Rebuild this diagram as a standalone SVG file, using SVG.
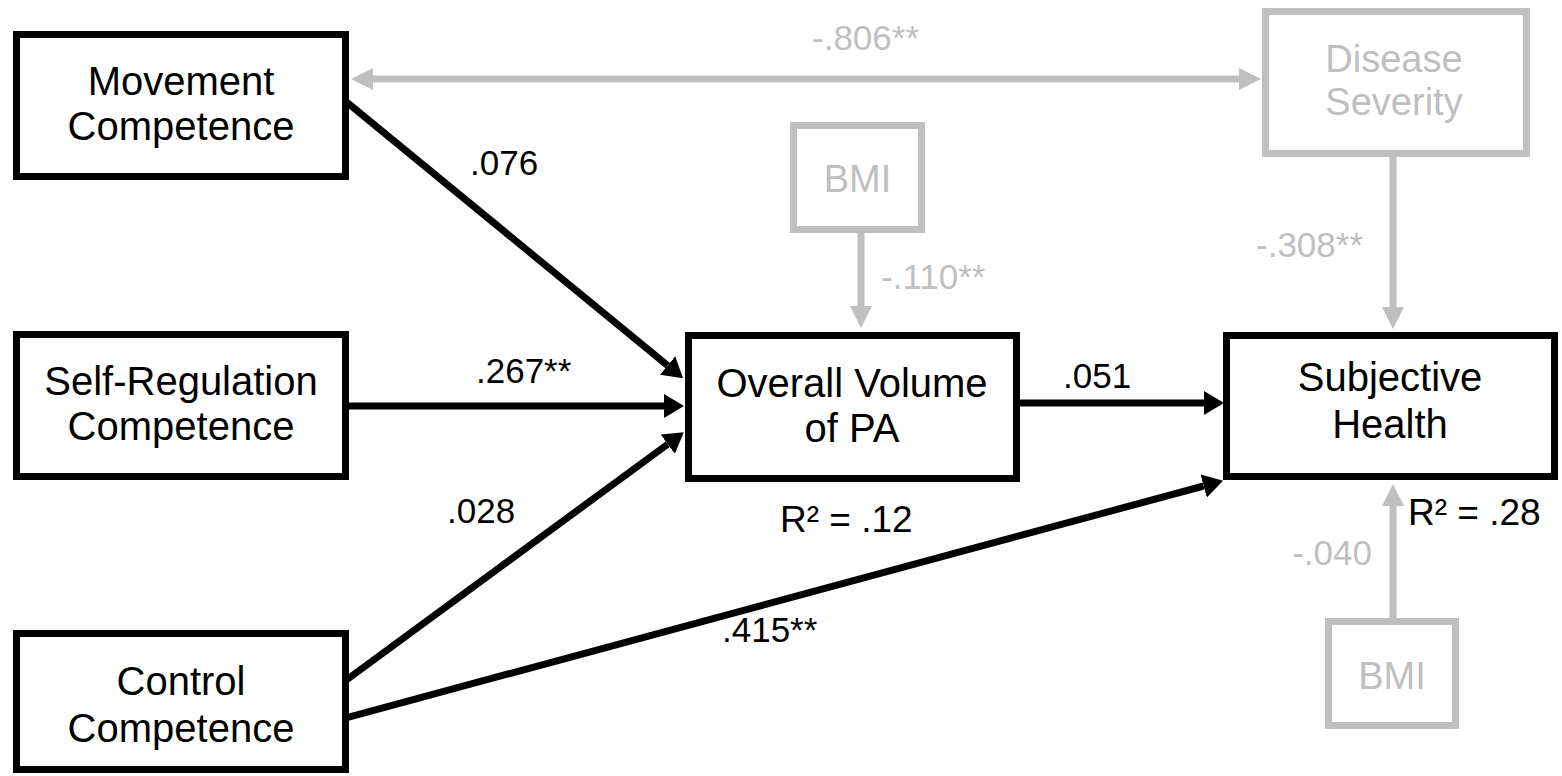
<svg xmlns="http://www.w3.org/2000/svg" width="1562" height="776" viewBox="0 0 1562 776">
  <style>
    .box { fill: #ffffff; stroke: #000000; stroke-width: 7; }
    .gbox { fill: #ffffff; stroke: #bfbfbf; stroke-width: 7; }
    .name { font-family: "Liberation Sans", Arial, sans-serif; font-size: 40px; fill: #000000; text-anchor: middle; }
    .gname { font-family: "Liberation Sans", Arial, sans-serif; font-size: 38px; fill: #bfbfbf; text-anchor: middle; }
    .coef { font-family: "Liberation Sans", Arial, sans-serif; font-size: 35px; fill: #000000; }
    .gcoef { font-family: "Liberation Sans", Arial, sans-serif; font-size: 35px; fill: #bfbfbf; }
    .rsq { font-family: "Liberation Sans", Arial, sans-serif; font-size: 37px; fill: #000000; }
    .path { fill: none; stroke: #000000; stroke-width: 7; }
    .gpath { fill: none; stroke: #bfbfbf; stroke-width: 7; }
  </style>
  <defs>
    <marker id="head" markerUnits="userSpaceOnUse" markerWidth="20" markerHeight="24" refX="0" refY="12" orient="auto">
      <path d="M0,0 L20,12 L0,24 Z" fill="#000000"/>
    </marker>
    <marker id="ghead" markerUnits="userSpaceOnUse" markerWidth="22" markerHeight="22" refX="0" refY="11" orient="auto-start-reverse">
      <path d="M0,0 L22,11 L0,22 Z" fill="#bfbfbf"/>
    </marker>
  </defs>

  <rect width="1562" height="776" fill="#ffffff"/>

  <!-- connectors -->
  <g id="connectors">
    <line class="gpath" x1="373" y1="79" x2="1239" y2="79" marker-start="url(#ghead)" marker-end="url(#ghead)"/>
    <line class="gpath" x1="861" y1="231" x2="861" y2="306" marker-end="url(#ghead)"/>
    <line class="gpath" x1="1393" y1="155" x2="1393" y2="307" marker-end="url(#ghead)"/>
    <line class="gpath" x1="1393" y1="620" x2="1393" y2="506" marker-end="url(#ghead)"/>
    <line class="path" x1="345" y1="100.7" x2="667.6" y2="365.5" marker-end="url(#head)"/>
    <line class="path" x1="347" y1="406" x2="664" y2="406" marker-end="url(#head)"/>
    <line class="path" x1="346" y1="680.2" x2="667.7" y2="444.2" marker-end="url(#head)"/>
    <line class="path" x1="346" y1="717.8" x2="1203.7" y2="486" marker-end="url(#head)"/>
    <line class="path" x1="1018" y1="403" x2="1204" y2="403" marker-end="url(#head)"/>
  </g>

  <!-- nodes -->
  <g id="movement">
    <rect class="box" x="16.5" y="34.5" width="329" height="142"/>
    <text class="name" x="181" y="95">Movement</text>
    <text class="name" x="181" y="140">Competence</text>
  </g>
  <g id="selfregulation">
    <rect class="box" x="16.5" y="334.5" width="329" height="142"/>
    <text class="name" x="181" y="395">Self-Regulation</text>
    <text class="name" x="181" y="440">Competence</text>
  </g>
  <g id="control">
    <rect class="box" x="16.5" y="633.5" width="329" height="136"/>
    <text class="name" x="181" y="695">Control</text>
    <text class="name" x="181" y="742">Competence</text>
  </g>
  <g id="volume">
    <rect class="box" x="688.5" y="335.5" width="328" height="143"/>
    <text class="name" x="852" y="397">Overall Volume</text>
    <text class="name" x="852" y="442">of PA</text>
  </g>
  <g id="health">
    <rect class="box" x="1226.5" y="335.5" width="328" height="141"/>
    <text class="name" x="1390" y="391">Subjective</text>
    <text class="name" x="1390" y="438">Health</text>
  </g>
  <g id="severity">
    <rect class="gbox" x="1265.5" y="11.5" width="261" height="142"/>
    <text class="gname" x="1394" y="72">Disease</text>
    <text class="gname" x="1394" y="115">Severity</text>
  </g>
  <g id="bmi-top">
    <rect class="gbox" x="793.5" y="125.5" width="128" height="104"/>
    <text class="gname" x="857.5" y="192">BMI</text>
  </g>
  <g id="bmi-bottom">
    <rect class="gbox" x="1328.5" y="621.5" width="127" height="104"/>
    <text class="gname" x="1392" y="689">BMI</text>
  </g>

  <!-- path coefficients -->
  <g id="labels">
    <text class="gcoef" x="812" y="50">-.806**</text>
    <text class="coef" x="470" y="175">.076</text>
    <text class="gcoef" x="881" y="289">-.110**</text>
    <text class="gcoef" x="1256" y="257">-.308**</text>
    <text class="coef" x="476" y="383">.267**</text>
    <text class="coef" x="1063" y="388">.051</text>
    <text class="coef" x="447" y="523">.028</text>
    <text class="coef" x="722" y="642">.415**</text>
    <text class="gcoef" x="1372" y="565" text-anchor="end">-.040</text>
    <text class="rsq" x="780" y="532">R² = .12</text>
    <text class="rsq" x="1408" y="525">R² = .28</text>
  </g>
</svg>
